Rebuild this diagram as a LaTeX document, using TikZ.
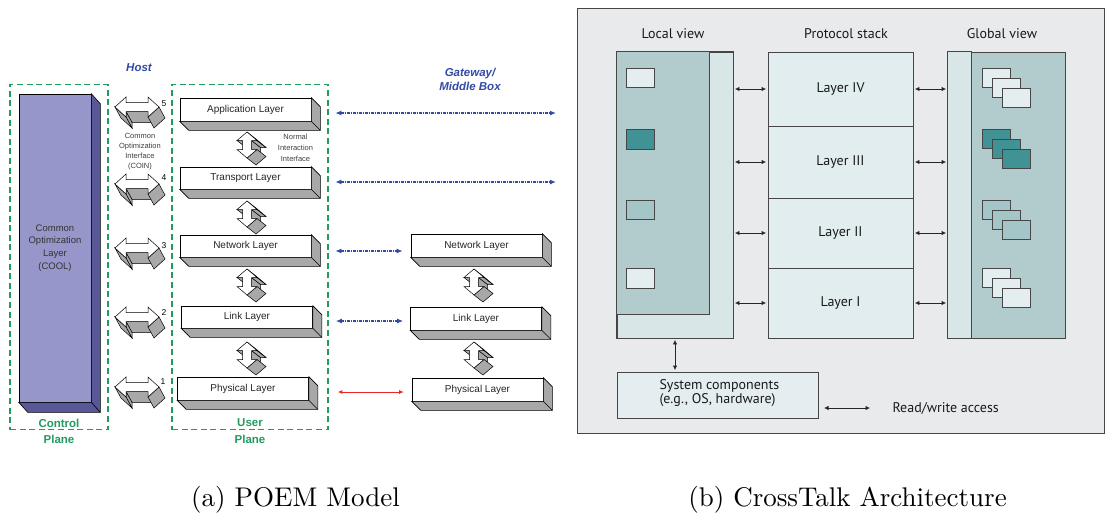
\documentclass[tikz,border=0pt]{standalone}
\usepackage{fontspec}
\newfontfamily\arialf{Liberation Sans}
\newfontfamily\myriad{PT Sans}
\newfontfamily\capfont{lmroman10-regular.otf}
\usetikzlibrary{arrows.meta,calc}
\definecolor{pgreen}{RGB}{35,155,95}
\definecolor{pblue}{RGB}{50,75,165}
\definecolor{coolface}{RGB}{150,150,202}
\definecolor{cooldark}{RGB}{88,88,152}
\definecolor{lgray}{RGB}{168,168,168}
\definecolor{panelbg}{RGB}{233,234,236}
\definecolor{lvlight}{RGB}{216,230,232}
\definecolor{lvdark}{RGB}{178,204,206}
\definecolor{stackc}{RGB}{226,237,239}
\definecolor{tealc}{RGB}{64,146,148}
\definecolor{tealmid}{RGB}{164,198,201}
\definecolor{boxlight}{RGB}{228,238,240}
\definecolor{rline}{RGB}{70,70,70}
\definecolor{redarr}{RGB}{232,40,40}
\newcommand\mkthreed[4]{% node, dx, dy, colour
  \filldraw[fill=#4,line width=0.6pt] (#1.north east) -- ++(#2,#3) -- ($(#1.south east)+(#2,#3)$) -- ($(#1.south west)+(#2,#3)$) -- (#1.south west) -- (#1.south east) -- cycle;
  \draw[line width=0.6pt] (#1.south east) -- ++(#2,#3);}
\newcommand\coinarrow[2]{%
  \begin{scope}[shift={(#1,#2)},line width=0.5pt]
    \filldraw[fill=lgray] (11,4.5) -- (-11,4.5) -- (-5,15.5) -- (17,15.5) -- cycle;
    \filldraw[fill=lgray] (-11,4.5) -- (-11,10) -- (-5,21) -- (-5,15.5) -- cycle;
    \filldraw[fill=lgray] (-11,10) -- (-22,0) -- (-16,11) -- (-5,21) -- cycle;
    \filldraw[fill=lgray] (22,0) -- (11,10) -- (17,21) -- (28,11) -- cycle;
    \filldraw[fill=white] (-22,0) -- (-11,-10) -- (-11,-4.5) -- (11,-4.5) -- (11,-10) -- (22,0) -- (11,10) -- (11,4.5) -- (-11,4.5) -- (-11,10) -- cycle;
  \end{scope}}
\newcommand\vertblockarrow[2]{%
  \begin{scope}[shift={(#1,#2)},line width=0.5pt]
    \filldraw[fill=lgray] (-4.5,-4.5) -- (-10,-4.5) -- (-1,2.5) -- (4.5,2.5) -- cycle;
    \filldraw[fill=lgray] (4.5,-4.5) -- (4.5,4.5) -- (13.5,11.5) -- (13.5,2.5) -- cycle;
    \filldraw[fill=lgray] (10,-4.5) -- (4.5,-4.5) -- (13.5,2.5) -- (19,2.5) -- cycle;
    \filldraw[fill=lgray] (0,-13) -- (10,-4.5) -- (19,2.5) -- (9,-6) -- cycle;
    \filldraw[fill=lgray] (10,4.5) -- (0,13) -- (9,20) -- (19,11.5) -- cycle;
    \filldraw[fill=white] (0,-13) -- (10,-4.5) -- (4.5,-4.5) -- (4.5,4.5) -- (10,4.5) -- (0,13) -- (-10,4.5) -- (-4.5,4.5) -- (-4.5,-4.5) -- (-10,-4.5) -- cycle;
  \end{scope}}
\tikzset{
  layerbox/.style={draw,fill=white,minimum width=131pt,minimum height=23pt,inner sep=0pt,line width=0.6pt,font=\arialf\fontsize{10}{11}\selectfont,text=black!85},
  planebox/.style={draw=pgreen,line width=1.8pt,dash pattern=on 6pt off 3.6pt,inner sep=0pt},
  planelbl/.style={font=\arialf\bfseries\fontsize{11.5}{13}\selectfont,text=pgreen,inner sep=1pt},
  bluelbl/.style={font=\arialf\bfseries\itshape\fontsize{11.5}{14}\selectfont,text=pblue,align=center},
  smalltxt/.style={font=\arialf\fontsize{7.5}{10}\selectfont,text=black!75,align=center},
  numlbl/.style={font=\arialf\fontsize{8.5}{10}\selectfont,inner sep=0pt},
  bluearr/.style={pblue,line width=1.3pt,dash pattern=on 3pt off 1pt on 1pt off 1pt,{Latex[length=6pt,width=5pt]}-{Latex[length=6pt,width=5pt]}},
  redarrow/.style={redarr,line width=0.8pt,{Latex[length=4.5pt,width=4pt]}-{Latex[length=4.5pt,width=4pt]}},
  rbox/.style={draw=rline,line width=0.8pt,inner sep=0pt},
  rtxt/.style={font=\myriad\fontsize{14}{15}\selectfont,text=black!90},
  rwarr/.style={line width=0.8pt,black!85,{Latex[length=4.5pt,width=4.5pt]}-{Latex[length=4.5pt,width=4.5pt]}},
  caption/.style={font=\capfont\fontsize{27}{30}\selectfont,inner sep=0pt}
}
\begin{document}
\begin{tikzpicture}[x=1pt,y=-1pt]
\useasboundingbox (0,0) rectangle (1105,515);
\fill[white] (0,0) rectangle (1105,515);

% ---------- (a) POEM model ----------
\node[planebox,minimum width=98pt,minimum height=345pt] (cplane) at (59,257) {};
\node[planebox,minimum width=156pt,minimum height=345pt] (uplane) at (250,257) {};
\node[planelbl,fill=white] (ctl) at (59,423) {Control};
\node[planelbl] (ctl2) at (59,439) {Plane};
\node[planelbl,fill=white] (usr) at (250,423) {User};
\node[planelbl] (usr2) at (250,439) {Plane};

\node[bluelbl] (host) at (139,68) {Host};
\node[bluelbl] (gwlbl) at (470,79) {Gateway/\\Middle Box};

\node[draw,fill=coolface,line width=0.6pt,minimum width=72pt,minimum height=308pt,inner sep=0pt,align=center,
      font=\arialf\fontsize{9.5}{12.7}\selectfont,text=black!80] (cool) at (55,248) {Common\\Optimization\\Layer\\(COOL)};
\mkthreed{cool}{9}{10}{cooldark}

% host layers
\node[layerbox] (happ) at (245.5,109.5) {Application Layer};
\node[layerbox,minimum height=22pt] (htra) at (245.5,178) {Transport Layer};
\node[layerbox,minimum height=22pt] (hnet) at (245.5,246) {Network Layer};
\node[layerbox,minimum height=22pt] (hlnk) at (247,317) {Link Layer};
\node[layerbox] (hphy) at (243,388.5) {Physical Layer};
\foreach \n in {happ,htra,hnet,hlnk,hphy}{\mkthreed{\n}{9}{9}{lgray}}

% gateway layers
\node[layerbox] (gnet) at (476.5,245.5) {Network Layer};
\node[layerbox] (glnk) at (476,318.5) {Link Layer};
\node[layerbox] (gphy) at (477.5,389.5) {Physical Layer};
\foreach \n in {gnet,glnk,gphy}{\mkthreed{\n}{9}{9}{lgray}}

% COIN arrows
\coinarrow{137}{107}
\coinarrow{137}{184}
\coinarrow{137}{248}
\coinarrow{137}{317}
\coinarrow{137}{387}
\node[numlbl] (n5) at (164,104) {5};
\node[numlbl] (n4) at (164,178) {4};
\node[numlbl] (n3) at (164,246) {3};
\node[numlbl] (n2) at (164,313) {2};
\node[numlbl] (n1) at (163,382) {1};
\node[smalltxt] (coin) at (140,152) {Common\\Optimization\\Interface\\(COIN)};
\node[smalltxt,font=\arialf\fontsize{7.5}{11}\selectfont] (nii) at (295.5,148) {Normal\\Interaction\\Interface};

% vertical interface arrows
\vertblockarrow{247}{145}
\vertblockarrow{247}{214}
\vertblockarrow{247}{282}
\vertblockarrow{247}{355}
\vertblockarrow{474}{282}
\vertblockarrow{474}{355}

% peer connections
\coordinate (gw5) at (556,113);
\coordinate (gw4) at (556,182);
\draw[bluearr] ($(happ.east)+(24,3.5)$) -- (gw5);
\draw[bluearr] ($(htra.east)+(24,4)$) -- (gw4);
\draw[bluearr] ($(hnet.east)+(24,5)$) -- ($(gnet.west)+(-8,5.5)$);
\draw[bluearr] ($(hlnk.east)+(23,4)$) -- ($(glnk.west)+(-7,2.5)$);
\draw[redarrow] ($(hphy.east)+(29,3.5)$) -- ($(gphy.west)+(-8,2.5)$);

% ---------- (b) CrossTalk ----------
\node[draw=rline,line width=0.9pt,fill=panelbg,minimum width=527pt,minimum height=425pt,inner sep=0pt] (panel) at (840.5,220.5) {};

\node[rbox,fill=lvlight,minimum width=116pt,minimum height=286pt] (local) at (675,195) {};
\draw[rline,line width=0.8pt,fill=lvdark] (local.north west) rectangle ($(local.north west)+(93,263)$);
\draw[rline,line width=0.8pt] (local.north west) rectangle (local.south east);
\draw[rline,line width=0.8pt,fill=boxlight] (626,68) rectangle ++(28,19);
\draw[rline,line width=0.8pt,fill=tealc] (626,129) rectangle ++(28,20);
\draw[rline,line width=0.8pt,fill=tealmid] (626,200) rectangle ++(28,19);
\draw[rline,line width=0.8pt,fill=boxlight] (626,268) rectangle ++(28,20);

\node[rbox,fill=stackc,minimum width=145pt,minimum height=74pt,rtxt] (L4) at (840.5,89) {Layer IV};
\node[rbox,fill=stackc,minimum width=145pt,minimum height=72pt,rtxt] (L3) at (840.5,162) {Layer III};
\node[rbox,fill=stackc,minimum width=145pt,minimum height=70pt,rtxt] (L2) at (840.5,233) {Layer II};
\node[rbox,fill=stackc,minimum width=145pt,minimum height=70pt,rtxt] (L1) at (840.5,303) {Layer I};

\node[rbox,fill=lvdark,minimum width=117pt,minimum height=286pt] (global) at (1006.5,195) {};
\draw[rline,line width=0.8pt,fill=lvlight] (global.north west) rectangle ($(global.south west)+(24,0)$);
\foreach \yy/\cc in {68/boxlight,129/tealc,200/tealmid,268/boxlight}{
  \foreach \k in {0,10,20}{
    \draw[rline,line width=0.8pt,fill=\cc] (982+\k,\yy+\k) rectangle ++(28,19);
  }
}

\node[rtxt] (hl) at (673,34) {Local view};
\node[rtxt] (hp) at (846,34) {Protocol stack};
\node[rtxt] (hg) at (1002,34) {Global view};

\foreach \L in {L4,L3,L2,L1}{
  \draw[rwarr,shorten <=1.5pt,shorten >=1.5pt] (local.east |- \L.west) -- (\L.west);
  \draw[rwarr,shorten <=1.5pt,shorten >=1.5pt] (\L.east) -- (global.west |- \L.east);
}

\node[rbox,fill=boxlight,minimum width=201pt,minimum height=46pt] (sys) at (717.5,395) {};
\node[rtxt,anchor=west,align=left,font=\myriad\fontsize{14}{14.5}\selectfont] (systxt) at (656,393) {System components\\(e.g., OS, hardware)};
\draw[rwarr,shorten <=1.5pt,shorten >=1.5pt] (local.south) -- (local.south |- sys.north);

\coordinate (lg1) at (824,408);
\coordinate (lg2) at (870,408);
\draw[rwarr] (lg1) -- (lg2);
\node[rtxt,anchor=west] (lgt) at (889,408) {Read/write access};

% captions
\node[caption] (capa) at (295.5,500) {(a) POEM Model};
\node[caption] (capb) at (847.5,500) {(b) CrossTalk Architecture};
\end{tikzpicture}
\end{document}
